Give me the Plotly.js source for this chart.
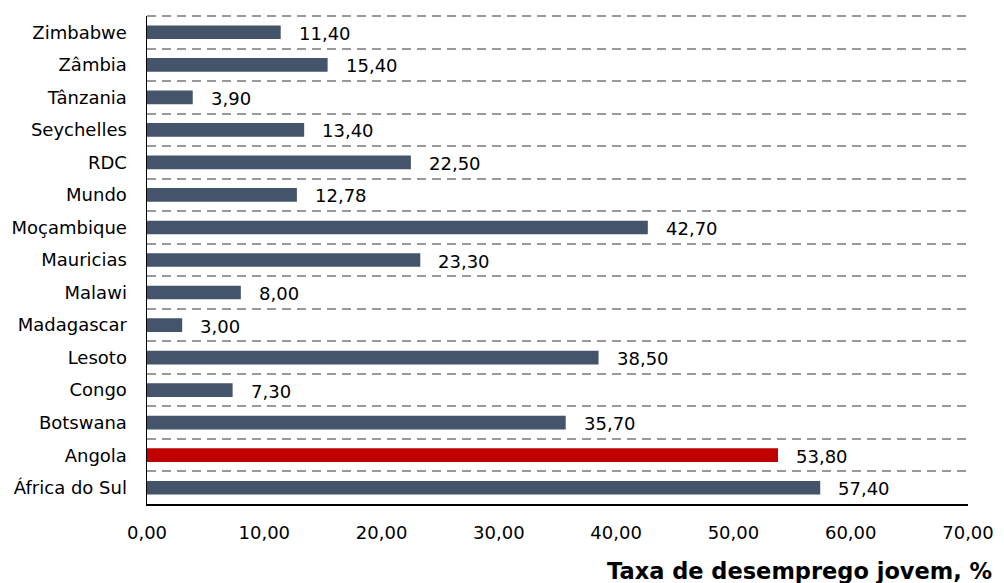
<!DOCTYPE html>
<html>
<head>
<meta charset="utf-8">
<script src="https://cdn.plot.ly/plotly-3.0.1.min.js"></script>
<style>html,body{margin:0;padding:0;background:#fff;}#chart{width:1004px;height:583px;}</style>
</head>
<body>
<div id="chart"></div>
<script>
// categories listed bottom to top
const countries = ["África do Sul","Angola","Botswana","Congo","Lesoto","Madagascar","Malawi","Mauricias","Moçambique","Mundo","RDC","Seychelles","Tânzania","Zâmbia","Zimbabwe"];
const rates = [57.40,53.80,35.70,7.30,38.50,3.00,8.00,23.30,42.70,12.78,22.50,13.40,3.90,15.40,11.40];
const highlight = "Angola";
const xTicks = [0,10,20,30,40,50,60,70];
const axisTitle = "Taxa de desemprego jovem, %";

const fmt = v => v.toFixed(2).replace('.', ',');
const colors = countries.map(c => c === highlight ? '#C00000' : '#44546A');

const trace = {
  type: 'bar',
  orientation: 'h',
  x: rates,
  y: countries,
  marker: {color: colors},
  hoverinfo: 'skip'
};

const annotations = countries.map((c, i) => ({
  x: rates[i], y: c, xref: 'x', yref: 'y',
  text: fmt(rates[i]), showarrow: false,
  xanchor: 'left', yanchor: 'middle', xshift: 16, yshift: -1,
  font: {family: 'DejaVu Sans', size: 18, color: '#000'}
}));
annotations.push({
  xref: 'paper', yref: 'paper', x: 1, y: 0, xshift: 26, yshift: -67,
  xanchor: 'right', yanchor: 'middle', showarrow: false,
  text: '<b>' + axisTitle + '</b>',
  font: {family: 'DejaVu Sans', size: 22.5, color: '#000'}
});

const layout = {
  width: 1004, height: 583,
  margin: {l: 147, r: 36, t: 16, b: 79},
  paper_bgcolor: '#fff', plot_bgcolor: '#fff',
  separators: ',.',
  showlegend: false,
  bargap: 0.58,
  font: {family: 'DejaVu Sans', size: 18, color: '#000'},
  xaxis: {
    range: [0, 70], tickvals: xTicks, ticktext: xTicks.map(fmt),
    showgrid: false, zeroline: false,
    showline: true, linecolor: '#000', linewidth: 1.5,
    ticks: '', ticklabelstandoff: 12,
    tickfont: {family: 'DejaVu Sans', size: 18, color: '#000'}
  },
  yaxis: {
    type: 'category', tickson: 'boundaries',
    showgrid: true, gridcolor: '#999999', gridwidth: 2, griddash: '9px,6px',
    showline: true, linecolor: '#000', linewidth: 1.5,
    ticks: '', ticklabelstandoff: 15,
    tickfont: {family: 'DejaVu Sans', size: 18, color: '#000'}
  },
  shapes: [{
    type: 'line', xref: 'paper', yref: 'paper', x0: 0, x1: 1, y0: 1, y1: 1,
    line: {color: '#999999', width: 2, dash: '9px,6px'}
  }],
  annotations: annotations
};

Plotly.newPlot('chart', [trace], layout, {displayModeBar: false, staticPlot: true});
</script>
</body>
</html>
